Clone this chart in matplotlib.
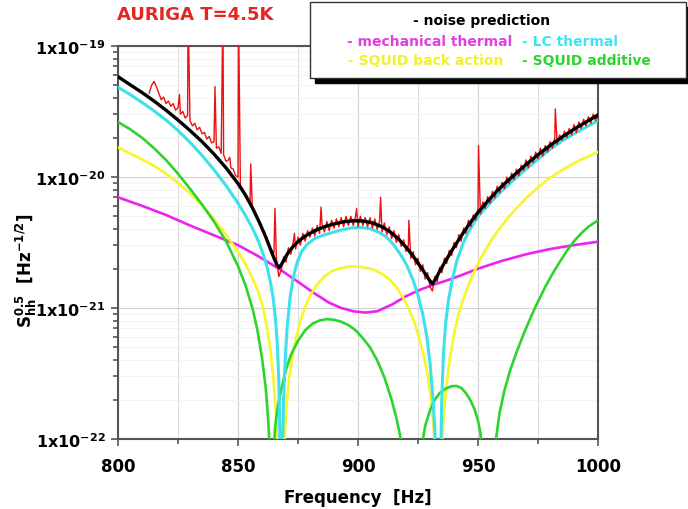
import numpy as np
import matplotlib
matplotlib.use('Agg')
import matplotlib.pyplot as plt
from matplotlib.patches import Rectangle
from matplotlib.ticker import FixedLocator, MultipleLocator, LogLocator, NullFormatter

plt.rcParams['font.family'] = ['DejaVu Sans']
plt.rcParams['font.weight'] = 'bold'
plt.rcParams['mathtext.fontset'] = 'dejavusans'

# all amplitudes stored as log10 of S_hh^0.5 [Hz^-1/2]

# noise prediction (black)
noise_f = [800, 805, 810, 815, 820, 825, 830, 835, 840, 845, 850, 853, 856, 859, 861.5, 863.5,
           865, 866.2, 867.2, 868.2, 869.5, 871, 873, 875.5, 878.5, 882, 886, 890, 894, 898,
           902, 906, 910, 913.5, 917, 920.5, 924, 927, 929.5, 931, 932.3, 934, 936.5, 939.5,
           943, 946.5, 950, 954, 958, 962, 966, 970, 975, 980, 985, 990, 995, 1000]
noise_exp = [-19.234, -19.295, -19.355, -19.42, -19.49, -19.565, -19.645, -19.73, -19.825,
             -19.93, -20.05, -20.135, -20.235, -20.35, -20.455, -20.55, -20.62, -20.67, -20.69,
             -20.665, -20.62, -20.575, -20.53, -20.485, -20.445, -20.41, -20.38, -20.358,
             -20.342, -20.334, -20.336, -20.35, -20.38, -20.42, -20.475, -20.545, -20.63,
             -20.71, -20.78, -20.815, -20.78, -20.72, -20.64, -20.55, -20.45, -20.355, -20.27,
             -20.185, -20.105, -20.035, -19.97, -19.905, -19.83, -19.76, -19.695, -19.635,
             -19.58, -19.527]

# mechanical thermal (magenta)
mech_f = [800, 810, 820, 830, 840, 850, 858, 867, 875, 882, 888, 893, 898, 903, 908, 914,
          920, 926, 931, 937, 943, 950, 960, 970, 980, 990, 1000]
mech_exp = [-20.155, -20.22, -20.29, -20.37, -20.445, -20.52, -20.60, -20.70, -20.80, -20.89,
            -20.96, -21.00, -21.025, -21.035, -21.025, -20.975, -20.91, -20.86, -20.825, -20.79,
            -20.75, -20.70, -20.64, -20.59, -20.55, -20.52, -20.494]

# LC thermal (cyan)
lc_f = [800, 805, 810, 815, 820, 825, 830, 835, 840, 845, 850, 853, 856, 858.5, 860.5, 862,
        863.5, 864.7, 865.6, 866.3, 866.9, 867.3, 867.6, 867.8,
        868.2, 868.5, 869, 869.7, 870.6, 871.7, 873, 874.5, 876.5, 879, 882, 885.5, 889, 893,
        897, 901, 905, 908.5, 912, 915, 918, 920.5, 923, 925, 927, 928.7, 930, 931.2, 932.2,
        932.8, 933.2,
        934.0, 934.4, 934.9, 935.6, 936.5, 937.7, 939.3, 941.2, 943.5, 946, 949, 952, 956,
        960, 965, 970, 975, 980, 985, 990, 995, 1000]
lc_exp = [-19.315, -19.37, -19.43, -19.495, -19.565, -19.645, -19.735, -19.835, -19.945,
          -20.065, -20.20, -20.29, -20.39, -20.49, -20.59, -20.68, -20.80, -20.93, -21.08,
          -21.25, -21.5, -21.8, -22.2, -22.6,
          -22.6, -22.1, -21.7, -21.38, -21.12, -20.92, -20.77, -20.66, -20.57, -20.51, -20.47,
          -20.445, -20.425, -20.405, -20.39, -20.385, -20.395, -20.42, -20.46, -20.52, -20.60,
          -20.68, -20.79, -20.90, -21.05, -21.22, -21.42, -21.68, -22.0, -22.3, -22.6,
          -22.6, -22.2, -21.7, -21.35, -21.12, -20.94, -20.78, -20.64, -20.52, -20.42, -20.33,
          -20.26, -20.18, -20.105, -20.02, -19.94, -19.865, -19.79, -19.725, -19.67, -19.62,
          -19.57]

# SQUID back action (yellow)
back_f = [800, 805, 810, 815, 820, 825, 830, 835, 840, 845, 850, 853, 856, 858.5, 860.5, 862,
          863.5, 864.8, 865.8, 866.6, 867.2,
          868.6, 869.2, 870, 871.2, 872.5, 874, 876, 878, 880.5, 883, 886, 889, 892, 895, 898,
          901, 904, 907, 910, 913, 916, 918.5, 921, 923.5, 925.5, 927.5, 929.3, 930.8, 931.8,
          932.6, 933.1,
          934.2, 934.8, 935.6, 936.8, 938.3, 940, 942, 944.5, 947, 950, 953, 956, 959.5, 963,
          967, 971, 975, 979, 983, 987, 991, 995, 1000]
back_exp = [-19.773, -19.82, -19.865, -19.915, -19.975, -20.045, -20.125, -20.215, -20.32,
            -20.44, -20.57, -20.66, -20.77, -20.88, -21.0, -21.14, -21.32, -21.55, -21.8, -22.1,
            -22.5,
            -22.5, -22.1, -21.8, -21.55, -21.38, -21.24, -21.10, -20.99, -20.89, -20.82, -20.76,
            -20.72, -20.70, -20.687, -20.683, -20.686, -20.695, -20.71, -20.74, -20.78, -20.84,
            -20.91, -21.0, -21.11, -21.23, -21.37, -21.54, -21.75, -22.0, -22.3, -22.6,
            -22.5, -22.15, -21.85, -21.6, -21.38, -21.2, -21.04, -20.9, -20.78, -20.66, -20.56,
            -20.47, -20.38, -20.30, -20.22, -20.145, -20.08, -20.02, -19.97, -19.925, -19.885,
            -19.85, -19.81]

# SQUID additive (green)
add_f = [800, 805, 810, 815, 820, 825, 830, 835, 840, 845, 850, 853, 856, 858, 860, 861.5,
         862.5, 863.3, 863.8,
         864.3, 864.8, 865.5, 866.5, 868, 870, 872, 875, 878, 881, 884, 887, 890, 893, 896,
         899, 902, 905, 908, 911, 914, 916, 917.5, 918.6, 919.3, 919.8,
         925.3, 925.9, 926.8, 928, 930, 932, 934, 936.5, 939, 941, 943, 945, 947, 948.5, 950,
         951, 951.8, 952.5,
         956.2, 956.8, 957.5, 959, 961, 963.5, 966, 969, 972, 975, 978, 981, 984, 987, 990,
         993, 996, 1000]
add_exp = [-19.58, -19.635, -19.70, -19.78, -19.87, -19.975, -20.09, -20.21, -20.34, -20.49,
           -20.68, -20.82, -21.0, -21.16, -21.38, -21.6, -21.83, -22.1, -22.4,
           -22.4, -22.1, -21.9, -21.76, -21.62, -21.47, -21.36, -21.25, -21.17, -21.12,
           -21.095, -21.085, -21.09, -21.105, -21.13, -21.17, -21.23, -21.30, -21.40, -21.53,
           -21.70, -21.84, -21.97, -22.1, -22.3, -22.5,
           -22.5, -22.2, -22.03, -21.9, -21.78, -21.7, -21.65, -21.615, -21.597, -21.595,
           -21.61, -21.65, -21.71, -21.77, -21.86, -21.95, -22.1, -22.4,
           -22.5, -22.2, -22.0, -21.8, -21.63, -21.47, -21.34, -21.2, -21.07, -20.95, -20.84,
           -20.74, -20.65, -20.565, -20.49, -20.43, -20.38, -20.33]

# measured spectrum (red), 1 Hz grid from 813 Hz, ten values per row
data_f = list(range(813, 1001))
data_exp = [-19.36, -19.30, -19.27, -19.31, -19.36, -19.41, -19.39, -19.44, -19.42, -19.46,
            -19.44, -19.49, -19.47, -19.52, -19.50, -19.55, -19.53, -19.57, -19.61, -19.59,
            -19.64, -19.62, -19.67, -19.66, -19.71, -19.69, -19.74, -19.73, -19.78, -19.77,
            -19.82, -19.83, -19.88, -19.87, -19.93, -19.94, -19.99, -20.00, -20.07, -20.09,
            -20.14, -20.16, -20.21, -20.24, -20.28, -20.31, -20.36, -20.39, -20.44, -20.47,
            -20.53, -20.56, -20.58,
            -20.62, -20.76, -20.71, -20.61, -20.65, -20.54, -20.59, -20.50, -20.55, -20.46,
            -20.52, -20.43, -20.49, -20.41, -20.46, -20.39, -20.45, -20.37, -20.43, -20.36,
            -20.42, -20.34, -20.41, -20.33, -20.39, -20.32, -20.38, -20.31, -20.38, -20.30,
            -20.37, -20.30, -20.37, -20.30, -20.38, -20.30, -20.37, -20.31, -20.38, -20.31,
            -20.39, -20.32, -20.40, -20.34, -20.42, -20.35, -20.44, -20.38, -20.47, -20.41,
            -20.50, -20.44, -20.53, -20.48, -20.57, -20.52, -20.62, -20.57, -20.67, -20.62,
            -20.72, -20.67, -20.78, -20.73, -20.84, -20.87, -20.76, -20.80, -20.69, -20.73,
            -20.62, -20.66, -20.56, -20.60, -20.50, -20.54, -20.44, -20.49, -20.39, -20.43,
            -20.33, -20.38, -20.29, -20.33, -20.24, -20.28, -20.19, -20.24, -20.15, -20.20,
            -20.11, -20.16, -20.07, -20.12, -20.04, -20.09, -20.00, -20.05, -19.97, -20.02,
            -19.94, -19.99, -19.91, -19.95, -19.87, -19.93, -19.84, -19.89, -19.81, -19.86,
            -19.78, -19.84, -19.76, -19.81, -19.73, -19.78, -19.70, -19.75, -19.68, -19.72,
            -19.65, -19.70, -19.63, -19.68, -19.60, -19.66, -19.58, -19.63, -19.56, -19.61,
            -19.54, -19.59, -19.52, -19.57, -19.50]

# narrow lines in the measured spectrum
spike_f = [825.6, 829.2, 840.4, 843.7, 846.6, 850.2, 855.3, 865.4, 873.5, 884.6, 899.4,
           909.4, 921.2, 950.2, 982.2]
spike_exp = [-19.37, -18.7, -19.31, -18.7, -19.85, -18.7, -19.90, -20.24, -20.43, -20.23,
             -20.24, -20.155, -20.33, -19.76, -19.48]

x_ticks = [800, 850, 900, 950, 1000]
y_ticks = [1e-22, 1e-21, 1e-20, 1e-19]
y_ticklabels = [r'$\mathbf{1x10^{-22}}$', r'$\mathbf{1x10^{-21}}$',
                r'$\mathbf{1x10^{-20}}$', r'$\mathbf{1x10^{-19}}$']

W, H = 688, 510
fig = plt.figure(figsize=(W / 100, H / 100), dpi=100)
ax = fig.add_axes([118 / W, 1 - 440 / H, 480 / W, 393 / H])

meas_f = np.array(data_f + spike_f, dtype=float)
meas_e = np.array(data_exp + spike_exp)
order = np.argsort(meas_f)

ax.plot(mech_f, 10.0 ** np.array(mech_exp), color='#ee22ee', lw=1.9, zorder=3)
ax.plot(back_f, 10.0 ** np.array(back_exp), color='#f6f62a', lw=1.9, zorder=3)
ax.plot(add_f, 10.0 ** np.array(add_exp), color='#2ed42e', lw=1.9, zorder=3)
ax.plot(lc_f, 10.0 ** np.array(lc_exp), color='#3ee0ea', lw=2.2, zorder=4)
ax.plot(meas_f[order], 10.0 ** meas_e[order], color='#ee1010', lw=1.0, zorder=5)
ax.plot(noise_f, 10.0 ** np.array(noise_exp), color='black', lw=2.4, zorder=6)

ax.set_yscale('log')
ax.set_xlim(800, 1000)
ax.set_ylim(1e-22, 1e-19)

ax.xaxis.set_major_locator(FixedLocator(x_ticks))
ax.xaxis.set_minor_locator(MultipleLocator(25))
ax.yaxis.set_major_locator(FixedLocator(y_ticks))
ax.set_yticklabels(y_ticklabels)
ax.yaxis.set_minor_locator(LogLocator(base=10, subs=np.arange(2, 10)))
ax.yaxis.set_minor_formatter(NullFormatter())

ax.grid(True, which='major', color='#d0d0d0', lw=0.8)
ax.grid(True, which='minor', axis='x', color='#dcdcdc', lw=0.8)
ax.grid(True, which='minor', axis='y', color='#f2f2f2', lw=0.6)
ax.set_axisbelow(True)

for sp in ax.spines.values():
    sp.set_color('#555555')
    sp.set_linewidth(1.5)
ax.tick_params(which='both', direction='out', color='#555555', width=1.2)
ax.tick_params(which='major', length=5)
ax.tick_params(which='minor', length=3.5)
ax.tick_params(axis='x', which='major', labelsize=12, pad=8)
ax.tick_params(axis='y', which='major', labelsize=11.5, pad=4)

ax.set_xlabel('Frequency  [Hz]', fontsize=12, fontweight='bold', labelpad=9)
fig.text(26 / W, 0.47, r'$\mathbf{S_{hh}^{0.5}\ \ [Hz^{-1/2}]}$', rotation=90,
         fontsize=12, ha='center', va='center')

fig.text(117 / W, 1 - 15 / H, 'AURIGA T=4.5K', color='#e52521', fontsize=13,
         fontweight='bold', ha='left', va='center')

# legend box with drop shadow
fig.add_artist(Rectangle((315 / W, 1 - 84 / H), 376 / W, 76 / H, transform=fig.transFigure,
                         facecolor='black', edgecolor='black', zorder=10))
fig.add_artist(Rectangle((310 / W, 1 - 79 / H), 376 / W, 76 / H, transform=fig.transFigure,
                         facecolor='white', edgecolor='#333333', lw=1.0, zorder=11))
leg = [('- noise prediction', 482, 21, 'center', 'black'),
       ('- mechanical thermal', 347, 42, 'left', '#e040e0'),
       ('- LC thermal', 522, 42, 'left', '#40e4f0'),
       ('- SQUID back action', 348, 61, 'left', '#f2f22a'),
       ('- SQUID additive', 522, 61, 'left', '#2ed42e')]
for txt, px, py, ha, col in leg:
    fig.text(px / W, 1 - py / H, txt, color=col, fontsize=10, fontweight='bold',
             ha=ha, va='center', zorder=12)

fig.savefig('out.png', dpi=100)
